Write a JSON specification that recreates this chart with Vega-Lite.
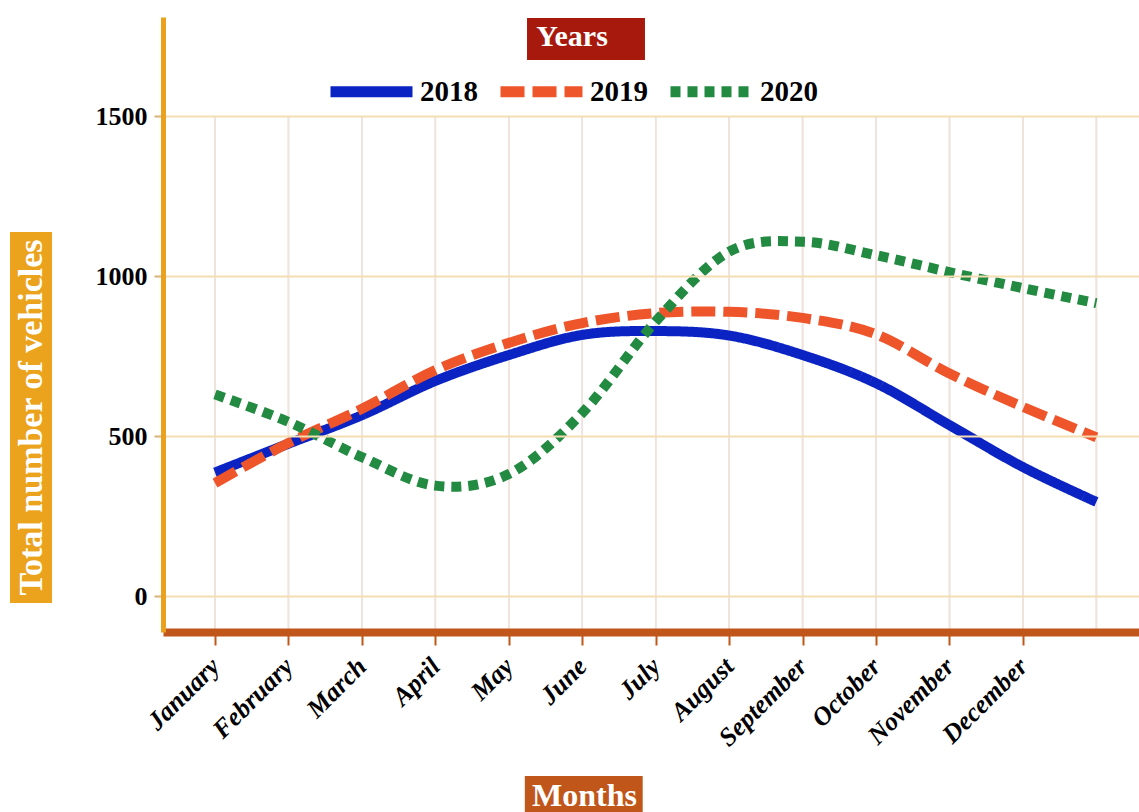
{
  "$schema": "https://vega.github.io/schema/vega-lite/v6.json",
  "width": 976,
  "height": 615,
  "autosize": {"type": "none"},
  "padding": {"left": 163, "top": 17, "right": 0, "bottom": 180},
  "background": "white",
  "config": {"view": {"stroke": null}, "font": "Liberation Serif"},
  "data": {
    "values": [
      {"m": 0, "year": "2018", "v": 386}, {"m": 1, "year": "2018", "v": 476}, {"m": 2, "year": "2018", "v": 565},
      {"m": 3, "year": "2018", "v": 672}, {"m": 4, "year": "2018", "v": 753}, {"m": 5, "year": "2018", "v": 816},
      {"m": 6, "year": "2018", "v": 828}, {"m": 7, "year": "2018", "v": 814}, {"m": 8, "year": "2018", "v": 753},
      {"m": 9, "year": "2018", "v": 665}, {"m": 10, "year": "2018", "v": 534}, {"m": 11, "year": "2018", "v": 403},
      {"m": 12, "year": "2018", "v": 294},
      {"m": 0, "year": "2019", "v": 353}, {"m": 1, "year": "2019", "v": 478}, {"m": 2, "year": "2019", "v": 585},
      {"m": 3, "year": "2019", "v": 706}, {"m": 4, "year": "2019", "v": 791}, {"m": 5, "year": "2019", "v": 853},
      {"m": 6, "year": "2019", "v": 884}, {"m": 7, "year": "2019", "v": 888}, {"m": 8, "year": "2019", "v": 869},
      {"m": 9, "year": "2019", "v": 818}, {"m": 10, "year": "2019", "v": 695}, {"m": 11, "year": "2019", "v": 591},
      {"m": 12, "year": "2019", "v": 496},
      {"m": 0, "year": "2020", "v": 630}, {"m": 1, "year": "2020", "v": 544}, {"m": 2, "year": "2020", "v": 434},
      {"m": 3, "year": "2020", "v": 345}, {"m": 4, "year": "2020", "v": 381}, {"m": 5, "year": "2020", "v": 572},
      {"m": 6, "year": "2020", "v": 858}, {"m": 7, "year": "2020", "v": 1076}, {"m": 8, "year": "2020", "v": 1107},
      {"m": 9, "year": "2020", "v": 1065}, {"m": 10, "year": "2020", "v": 1012}, {"m": 11, "year": "2020", "v": 962},
      {"m": 12, "year": "2020", "v": 915}
    ]
  },
  "layer": [
    {
      "mark": {"type": "rule", "color": "#EEE3DD", "strokeWidth": 1.5},
      "encoding": {
        "x": {"field": "m", "type": "quantitative", "title": "Months"},
        "y": {"datum": 1500, "type": "quantitative"},
        "y2": {"datum": -112.5}
      }
    },
    {
      "data": {"values": [{}]},
      "mark": {"type": "rect", "color": "#EBA21C"},
      "encoding": {
        "x": {"datum": -2.791, "type": "quantitative"},
        "x2": {"datum": -2.219},
        "y": {"datum": 1137.5, "type": "quantitative"},
        "y2": {"datum": -21.9}
      }
    },
    {
      "data": {"values": [{}]},
      "mark": {"type": "rect", "color": "#A8190D"},
      "encoding": {
        "x": {"datum": 4.248, "type": "quantitative"},
        "x2": {"datum": 5.854},
        "y": {"datum": 1806, "type": "quantitative"},
        "y2": {"datum": 1675}
      }
    },
    {
      "data": {"values": [{}]},
      "mark": {"type": "rect", "color": "#C0561A"},
      "encoding": {
        "x": {"datum": 4.218, "type": "quantitative"},
        "x2": {"datum": 5.823},
        "y": {"datum": -562.5, "type": "quantitative"},
        "y2": {"datum": -700}
      }
    },
    {
      "mark": {"type": "line", "interpolate": "cardinal", "strokeWidth": 10, "strokeCap": "butt"},
      "encoding": {
        "x": {
          "field": "m",
          "type": "quantitative",
          "scale": {"domain": [-0.708, 12.58], "nice": false, "zero": false},
          "axis": {
            "title": "Months",
            "values": [0, 1, 2, 3, 4, 5, 6, 7, 8, 9, 10, 11, 12],
            "labelExpr": "['January','February','March','April','May','June','July','August','September','October','November','December',''][datum.value]",
            "grid": false,
            "domainColor": "#C0561A",
            "domainWidth": 8,
            "tickColor": {"condition": {"test": "datum.value > 11", "value": "transparent"}, "value": "#C0561A"},
            "tickSize": 13,
            "tickWidth": 2,
            "labelAngle": -45,
            "labelAlign": "right",
            "labelBaseline": "middle",
            "labelFont": "Liberation Serif",
            "labelFontStyle": "italic",
            "labelFontWeight": "bold",
            "labelFontSize": 26,
            "labelColor": "black",
            "labelPadding": 17,
            "labelFlush": false,
            "labelOverlap": false,
            "labelBound": false,
            "titleColor": "white",
            "titleFont": "Liberation Serif",
            "titleFontWeight": "bold",
            "titleFontSize": 32,
            "titleX": 421,
            "titleY": 163,
            "titleAlign": "center",
            "titleBaseline": "middle",
            "zindex": 1
          }
        },
        "y": {
          "field": "v",
          "type": "quantitative",
          "scale": {"domain": [-112.5, 1809.4], "nice": false, "zero": false},
          "axis": {
            "title": "Total number of vehicles",
            "values": [0, 500, 1000, 1500],
            "format": "d",
            "grid": true,
            "gridColor": "#F4DDB1",
            "gridWidth": 2,
            "domainColor": "#EAA21E",
            "domainWidth": 5,
            "tickColor": "#D9B37A",
            "tickSize": 9,
            "tickWidth": 2,
            "labelFont": "Liberation Serif",
            "labelFontWeight": "bold",
            "labelFontSize": 26,
            "labelColor": "black",
            "labelPadding": 7,
            "titleColor": "white",
            "titleFont": "Liberation Serif",
            "titleFontWeight": "bold",
            "titleFontSize": 34,
            "titleX": -132,
            "titleY": 400,
            "titleAngle": 270,
            "titleAlign": "center",
            "titleBaseline": "middle",
            "zindex": 1
          }
        },
        "color": {
          "field": "year",
          "type": "nominal",
          "scale": {"domain": ["2018", "2019", "2020"], "range": ["#0A23C2", "#EF552B", "#238A42"]},
          "legend": {
            "title": "Years", "orient": "none", "direction": "horizontal", "legendX": 162, "legendY": 5, "padding": 0,
            "symbolType": "stroke", "symbolSize": 6724, "symbolStrokeWidth": 11,
            "labelFont": "Liberation Serif", "labelFontWeight": "bold", "labelFontSize": 29, "labelColor": "black",
            "labelOffset": 2, "columnPadding": 0, "labelLimit": 0,
            "titleFont": "Liberation Serif", "titleFontSize": 30, "titleFontWeight": "bold", "titleColor": "white",
            "titleAnchor": "middle", "titlePadding": -7
          }
        },
        "strokeDash": {
          "field": "year",
          "type": "nominal",
          "scale": {"domain": ["2018", "2019", "2020"], "range": [[1, 0], [24, 8], [10, 7]]},
          "legend": {
            "title": "Years", "orient": "none", "direction": "horizontal", "legendX": 162, "legendY": 5, "padding": 0,
            "symbolType": "stroke", "symbolSize": 6724, "symbolStrokeWidth": 11,
            "labelFont": "Liberation Serif", "labelFontWeight": "bold", "labelFontSize": 29, "labelColor": "black",
            "labelOffset": 2, "columnPadding": 0, "labelLimit": 0,
            "titleFont": "Liberation Serif", "titleFontSize": 30, "titleFontWeight": "bold", "titleColor": "white",
            "titleAnchor": "middle", "titlePadding": -7
          }
        }
      }
    }
  ]
}
